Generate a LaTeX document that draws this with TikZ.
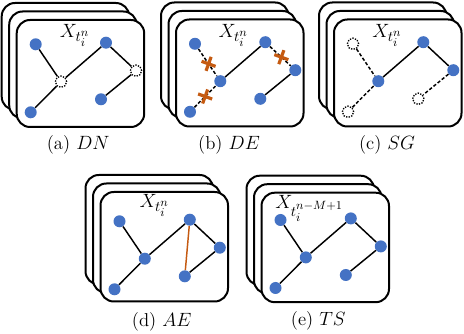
\documentclass[tikz,border=0pt]{standalone}
\usepackage{amsmath}
\usetikzlibrary{positioning}
\usetikzlibrary{shapes.misc}

\definecolor{dotblue}{RGB}{68,114,196}
\definecolor{augorange}{RGB}{197,90,17}

\DeclareMathSizes{14}{14}{11}{9}

\tikzset{
    card/.style={draw, fill=white, line width=1.5pt, rounded corners=10pt},
    vtx/.style={circle, fill=dotblue, inner sep=0pt, minimum size=9pt},
    dropped/.style={circle, draw, densely dotted, line width=1pt, inner sep=0pt, minimum size=8.5pt},
    edge/.style={line width=1.1pt},
    dropedge/.style={line width=1.1pt, dash pattern=on 2.5pt off 1.5pt},
    cutmark/.style={cross out, solid, draw=augorange, line width=2.4pt, inner sep=0pt, minimum size=5.5pt, rotate=25},
    caption/.style={font=\fontsize{14}{16}\selectfont, inner sep=0pt},
    tag/.style={anchor=base west, inner sep=0pt, font=\fontsize{14}{16}\selectfont}
}

% three stacked cards, #1 = top of front card, #2 = its height
\newcommand{\cardstack}[2]{%
    \draw[card] (-15,#1-17) rectangle ++(127.5,#2);
    \draw[card] (-7.5,#1-8.5) rectangle ++(127.5,#2);
    \draw[card] (0,#1) rectangle ++(127.5,#2);
}

\begin{document}
\begin{tikzpicture}[x=0.75pt, y=-0.75pt]
    \useasboundingbox (0,0) rectangle (464,334);

    % (a) dropped nodes
    \begin{scope}[shift={(16.7,20)}]
        \cardstack{0}{107}
        \node[tag] (xa) at (43,18) {$X_{t_i^n}$};
        \node[vtx] (a1) at (19,24.3) {};
        \node[dropped] (a2) at (44.3,61.7) {};
        \node[vtx] (a3) at (89.3,22.7) {};
        \node[dropped] (a4) at (119.3,50.7) {};
        \node[vtx] (a5) at (14,92.3) {};
        \node[vtx] (a6) at (84.3,79.3) {};
        \draw[edge] (a1) -- (a2);
        \draw[edge] (a5) -- (a2);
        \draw[edge] (a2) -- (a3);
        \draw[edge] (a3) -- (a4);
        \draw[edge] (a4) -- (a6);
        \node[caption] (capa) at (61.5,125) {(a) $DN$};
    \end{scope}

    % (b) dropped edges
    \begin{scope}[shift={(176,19.5)}]
        \cardstack{0}{107}
        \node[tag] (xb) at (42.3,18.5) {$X_{t_i^n}$};
        \node[vtx] (b1) at (19,24.3) {};
        \node[vtx] (b2) at (44.3,61.7) {};
        \node[vtx] (b3) at (89.3,22.7) {};
        \node[vtx] (b4) at (119.3,50.7) {};
        \node[vtx] (b5) at (14,92.3) {};
        \node[vtx] (b6) at (84.3,79.3) {};
        \draw[dropedge] (b1) -- (b2) node[cutmark, pos=0.55] (cb1) {};
        \draw[dropedge] (b5) -- (b2) node[cutmark, pos=0.5] (cb2) {};
        \draw[edge] (b2) -- (b3);
        \draw[dropedge] (b3) -- (b4) node[cutmark, pos=0.55] (cb3) {};
        \draw[edge] (b4) -- (b6);
        \node[caption] (capb) at (53,125.5) {(b) $DE$};
    \end{scope}

    % (c) subgraph
    \begin{scope}[shift={(334,19.5)}]
        \cardstack{0}{107}
        \node[tag] (xc) at (38,18.5) {$X_{t_i^n}$};
        \node[dropped] (c1) at (19,24.3) {};
        \node[vtx] (c2) at (44.3,61.7) {};
        \node[vtx] (c3) at (89.3,22.7) {};
        \node[vtx] (c4) at (119.3,50.7) {};
        \node[dropped] (c5) at (14,92.3) {};
        \node[dropped] (c6) at (84.3,79.3) {};
        \draw[dropedge] (c1) -- (c2);
        \draw[dropedge] (c5) -- (c2);
        \draw[edge] (c2) -- (c3);
        \draw[edge] (c3) -- (c4);
        \draw[dropedge] (c4) -- (c6);
        \node[caption] (capc) at (53,125.5) {(c) $SG$};
    \end{scope}

    % (d) added edge
    \begin{scope}[shift={(100.5,197)}]
        \cardstack{-5}{109.5}
        \node[tag] (xd) at (38.8,11) {$X_{t_i^n}$};
        \node[vtx] (d1) at (19,24.3) {};
        \node[vtx] (d2) at (44.3,61.7) {};
        \node[vtx] (d3) at (89.3,22.7) {};
        \node[vtx] (d4) at (119.3,50.7) {};
        \node[vtx] (d5) at (14,92.3) {};
        \node[vtx] (d6) at (84.3,79.3) {};
        \draw[edge] (d1) -- (d2);
        \draw[edge] (d5) -- (d2);
        \draw[edge] (d2) -- (d3);
        \draw[edge] (d3) -- (d4);
        \draw[edge] (d4) -- (d6);
        \draw[edge, augorange] (d3) -- (d6);
        \node[caption] (capd) at (61.2,124.5) {(d) $AE$};
    \end{scope}

    % (e) time shift
    \begin{scope}[shift={(261.5,195.7)}]
        \cardstack{-3}{109.5}
        \node[tag] (xe) at (13.5,12.6) {$X_{t_i^{n-M+1}}$};
        \node[vtx] (e1) at (19,24.3) {};
        \node[vtx] (e2) at (44.3,61.7) {};
        \node[vtx] (e3) at (89.3,22.7) {};
        \node[vtx] (e4) at (119.3,50.7) {};
        \node[vtx] (e5) at (14,92.3) {};
        \node[vtx] (e6) at (84.3,79.3) {};
        \draw[edge] (e1) -- (e2);
        \draw[edge] (e5) -- (e2);
        \draw[edge] (e2) -- (e3);
        \draw[edge] (e3) -- (e4);
        \draw[edge] (e4) -- (e6);
        \node[caption] (cape) at (56.8,125) {(e) $TS$};
    \end{scope}
\end{tikzpicture}
\end{document}
